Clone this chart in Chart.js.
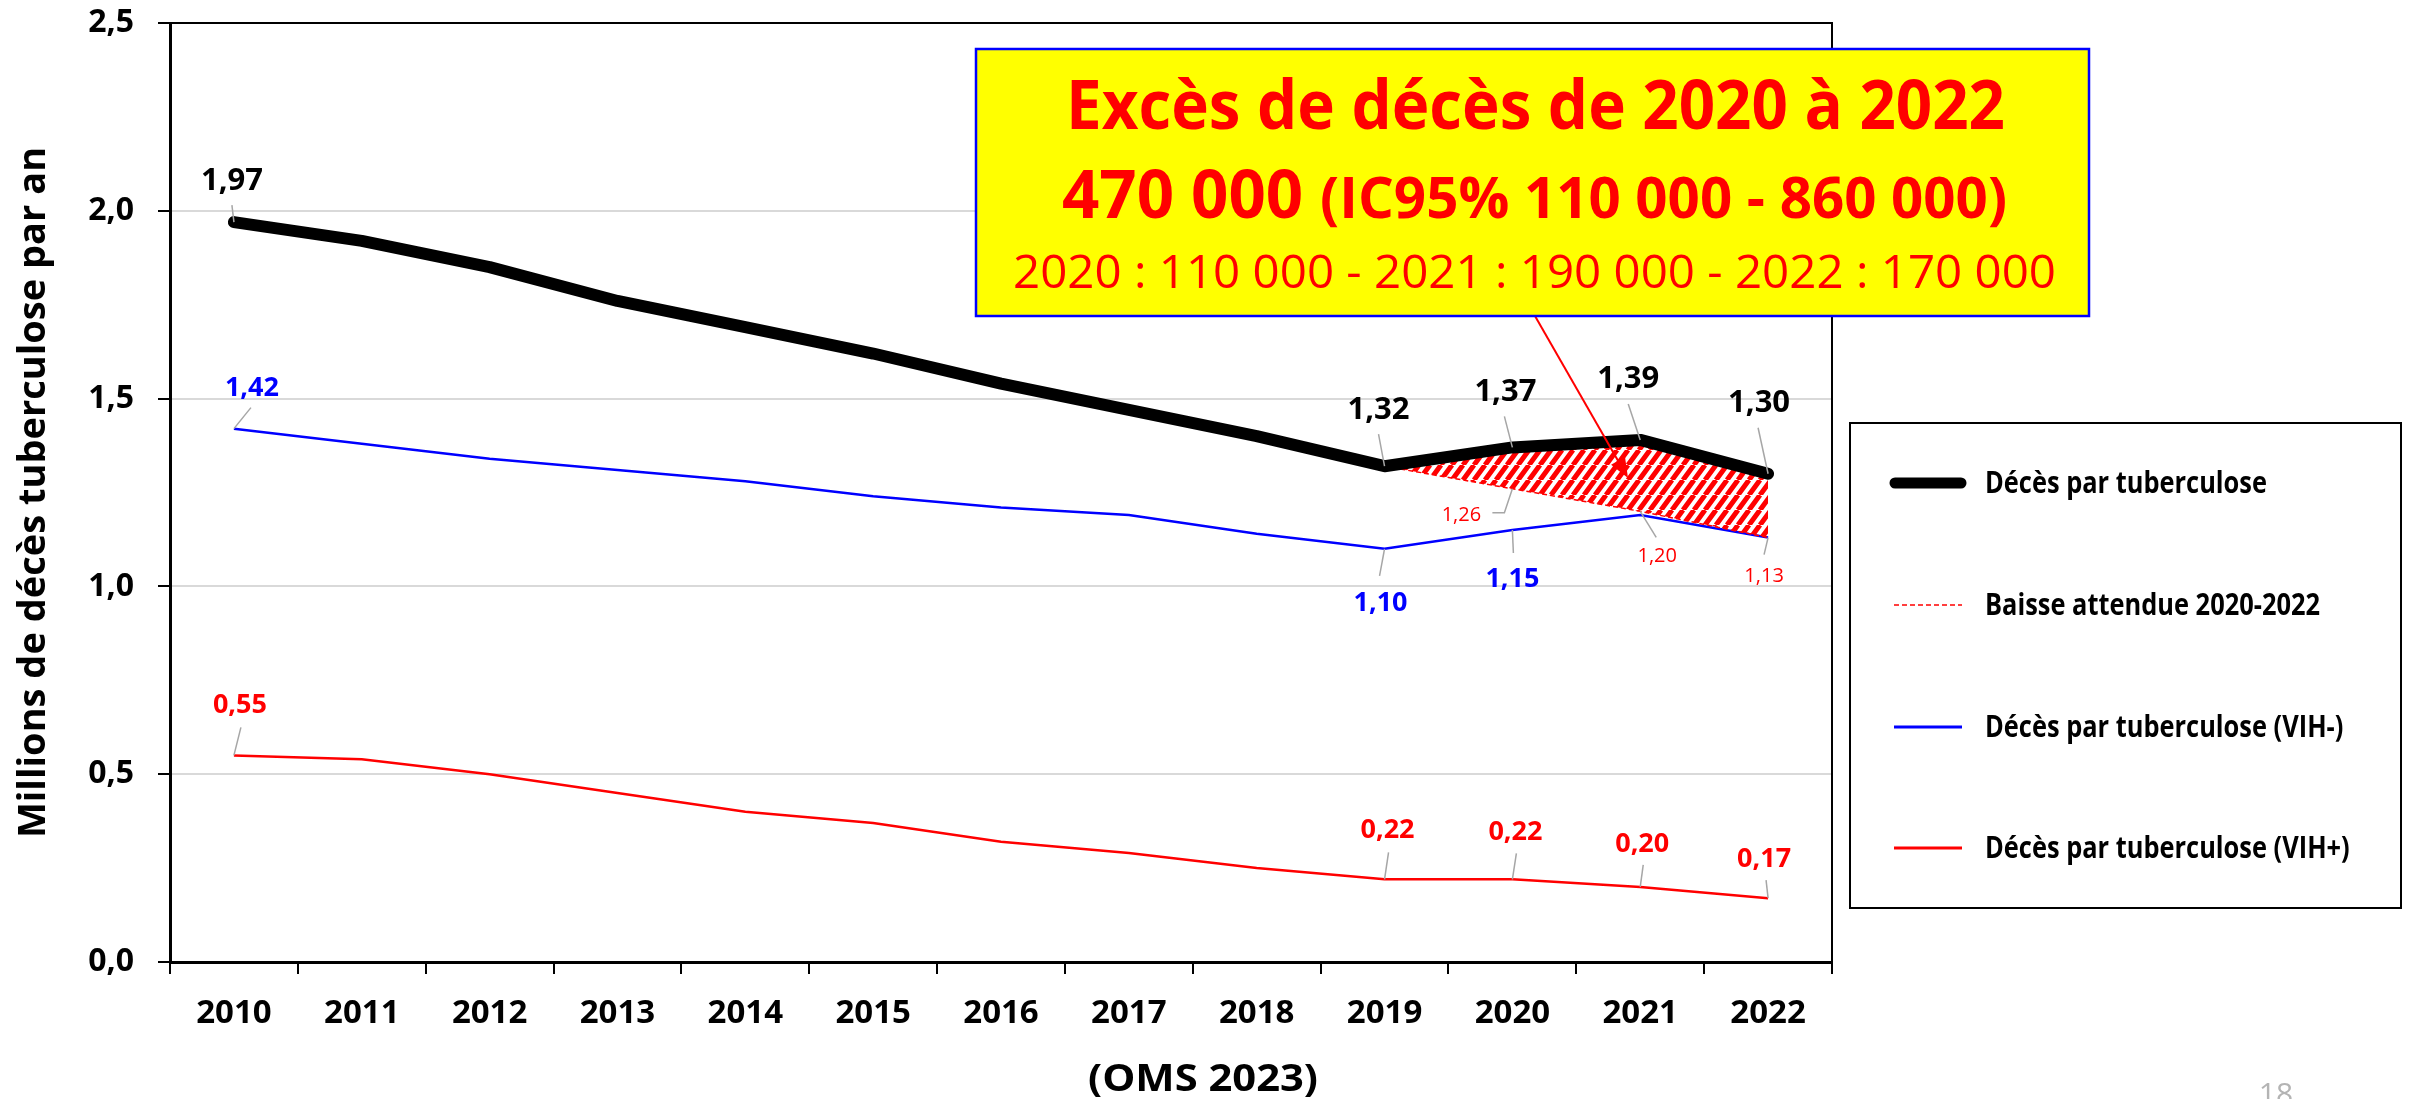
<!DOCTYPE html>
<html><head><meta charset="utf-8">
<script src="https://cdn.jsdelivr.net/npm/chart.js@4.4.1/dist/chart.umd.min.js"></script>
<style>html,body{margin:0;padding:0;background:#fff;overflow:hidden}#wrap{width:2410px;height:1099px;position:relative}canvas{display:block}</style>
</head><body><div id="wrap"><canvas id="c" width="2410" height="1099"></canvas></div>
<script>
// ---------- DATA ----------
const years = ['2010','2011','2012','2013','2014','2015','2016','2017','2018','2019','2020','2021','2022'];
const totalDeaths = [1.97,1.92,1.85,1.76,1.69,1.62,1.54,1.47,1.40,1.32,1.37,1.39,1.30];
const expectedDecline = [null,null,null,null,null,null,null,null,null,1.32,1.26,1.20,1.13];
const hivNegDeaths = [1.42,1.38,1.34,1.31,1.28,1.24,1.21,1.19,1.14,1.10,1.15,1.19,1.13];
const hivPosDeaths = [0.55,0.54,0.50,0.45,0.40,0.37,0.32,0.29,0.25,0.22,0.22,0.20,0.17];
const yTicks = [0,0.5,1.0,1.5,2.0,2.5];
const seriesNames = ['Décès par tuberculose','Baisse attendue 2020-2022','Décès par tuberculose (VIH-)','Décès par tuberculose (VIH+)'];
const yTitle = 'Millions de décès tuberculose par an';
const xTitle = '(OMS 2023)';
const boxLine1 = 'Excès de décès de 2020 à 2022';
const boxLine2a = '470 000 ';
const boxLine2b = '(IC95% 110 000 - 860 000)';
const boxLine3 = '2020 : 110 000 - 2021 : 190 000 - 2022 : 170 000';
const pageNumber = '18';

// ---------- STYLE / LAYOUT ----------
const FONT = "'Open Sans', 'Liberation Sans', sans-serif";
// [index, labelDx, labelDy(baseline), leader points dx,dy ...] relative to the data point
const labelLayout = {
  0: { font: 'bold 31px ' + FONT, color: '#000000', items: [[0,-2,-32,-2,-17],[9,-6,-47,-6,-32],[10,-7,-46,-8,-31],[11,-12,-52,-12,-36],[12,-9,-62,-10,-46]] },
  1: { font: '20px ' + FONT, color: '#FF0000', items: [[10,-51,32,-8,24,-20,24],[11,17,51,16,26],[12,-4,44,-4,17]] },
  2: { font: 'bold 27px ' + FONT, color: '#0000FF', items: [[0,18,-33,17,-21],[9,-4,62,-5,27],[10,0,57,1,23]] },
  3: { font: 'bold 27px ' + FONT, color: '#FF0000', items: [[0,6,-42,7,-28],[9,3,-41,4,-27],[10,3,-39,4,-26],[11,2,-35,3,-22],[12,-4,-31,-2,-18]] }
};
const fmt = v => v.toFixed(2).replace('.', ',');

const canvas = document.getElementById('c');
const ctx = canvas.getContext('2d');

function makeHatch() {
  const w = 11, h = 15;
  const pc = document.createElement('canvas'); pc.width = w; pc.height = h;
  const p = pc.getContext('2d');
  p.strokeStyle = '#FF0000'; p.lineWidth = 5; p.lineCap = 'butt';
  p.beginPath();
  for (const o of [-w, 0, w]) { p.moveTo(o, h); p.lineTo(o + w, 0); }
  p.stroke();
  return ctx.createPattern(pc, 'repeat');
}

function fitText(c, text, x, y, targetW) {
  const w = c.measureText(text).width;
  c.save(); c.translate(x, y); c.scale(targetW / w, 1); c.textAlign = 'left'; c.fillText(text, 0, 0); c.restore();
}

const decor = {
  id: 'decor',
  afterDraw(chart) {
    const c = chart.ctx, a = chart.chartArea;
    c.save();
    // plot frame top/right
    c.strokeStyle = '#000'; c.lineWidth = 2;
    c.beginPath(); c.moveTo(a.left, a.top); c.lineTo(a.right, a.top); c.lineTo(a.right, a.bottom); c.stroke();

    // data labels with leader lines
    chart.data.datasets.forEach((ds, di) => {
      const L = labelLayout[di]; if (!L) return;
      const meta = chart.getDatasetMeta(di);
      L.items.forEach(it => {
        const [i, dx, dy, ...lead] = it;
        const p = meta.data[i]; const v = ds.data[i];
        c.strokeStyle = '#A6A6A6'; c.lineWidth = 1.5;
        c.beginPath(); c.moveTo(p.x, p.y);
        for (let k = 0; k < lead.length; k += 2) c.lineTo(p.x + lead[k], p.y + lead[k + 1]);
        c.stroke();
        c.font = L.font; c.fillStyle = L.color; c.textAlign = 'center'; c.textBaseline = 'alphabetic';
        c.fillText(fmt(v), p.x + dx, p.y + dy);
      });
    });

    // x axis title
    c.font = 'bold 37px ' + FONT; c.fillStyle = '#000'; c.textBaseline = 'alphabetic';
    fitText(c, xTitle, 1088, 1091, 230);

    // arrow from box to hatched area
    const ax0 = 1535, ay0 = 316, ax1 = 1628, ay1 = 478;
    c.strokeStyle = '#FF0000'; c.fillStyle = '#FF0000'; c.lineWidth = 2;
    const ang = Math.atan2(ay1 - ay0, ax1 - ax0);
    const hl = 20, hw = 8;
    const bxp = ax1 - hl * Math.cos(ang), byp = ay1 - hl * Math.sin(ang);
    c.beginPath(); c.moveTo(ax0, ay0); c.lineTo(bxp, byp); c.stroke();
    c.beginPath(); c.moveTo(ax1, ay1);
    c.lineTo(bxp + hw * Math.sin(ang), byp - hw * Math.cos(ang));
    c.lineTo(bxp - hw * Math.sin(ang), byp + hw * Math.cos(ang));
    c.closePath(); c.fill();

    // yellow box
    const bx = 976, by = 49, bw = 2089 - 976, bh = 316 - 49;
    c.fillStyle = '#FFFF00'; c.fillRect(bx, by, bw, bh);
    c.strokeStyle = '#0000FF'; c.lineWidth = 2.5; c.strokeRect(bx, by, bw, bh);
    c.fillStyle = '#FF0000';
    c.font = 'bold 68px ' + FONT; fitText(c, boxLine1, 1066, 129, 939);
    c.font = 'bold 66px ' + FONT; const w2a = c.measureText(boxLine2a).width;
    c.font = 'bold 57px ' + FONT; const w2b = c.measureText(boxLine2b).width;
    const s2 = 945 / (w2a + w2b);
    c.save(); c.translate(1062, 218); c.scale(s2, 1); c.textAlign = 'left';
    c.font = 'bold 66px ' + FONT; c.fillText(boxLine2a, 0, 0);
    c.font = 'bold 57px ' + FONT; c.fillText(boxLine2b, w2a, 0);
    c.restore();
    c.font = '46px ' + FONT; fitText(c, boxLine3, 1013, 288, 1043);

    // legend
    const lx = 1850, ly = 423, lw = 551, lh = 485;
    c.strokeStyle = '#000'; c.lineWidth = 2; c.strokeRect(lx, ly, lw, lh);
    const rows = [483, 605, 727, 848];
    c.font = 'bold 30px ' + FONT;
    const sx = 282 / c.measureText(chart.data.datasets[0].label).width;
    chart.data.datasets.forEach((ds, i) => {
      const y = rows[i];
      c.save();
      c.strokeStyle = ds.borderColor; c.lineWidth = i === 0 ? 11 : (i === 1 ? 1.5 : 3);
      c.lineCap = i === 0 ? 'round' : 'butt';
      c.setLineDash(ds.borderDash || []);
      c.beginPath();
      if (i === 0) { c.moveTo(1895, y); c.lineTo(1961, y); } else { c.moveTo(1894, y); c.lineTo(1962, y); }
      c.stroke(); c.restore();
      c.fillStyle = '#000'; c.textBaseline = 'middle';
      c.save(); c.translate(1985, y + 1); c.scale(sx, 1); c.textAlign = 'left'; c.fillText(ds.label, 0, 0); c.restore();
    });

    // page number
    c.font = '30px ' + FONT; c.fillStyle = '#B4B4B4'; c.textAlign = 'center'; c.textBaseline = 'alphabetic';
    c.fillText(pageNumber, 2276, 1104);
    c.restore();
  }
};

const hatch = makeHatch();

new Chart(ctx, {
  type: 'line',
  data: {
    labels: years,
    datasets: [
      { label: seriesNames[0], data: totalDeaths, borderColor: '#000000', borderWidth: 12, borderCapStyle: 'round', borderJoinStyle: 'round', pointRadius: 0, fill: false, tension: 0 },
      { label: seriesNames[1], data: expectedDecline, borderColor: '#FF0000', borderWidth: 1.5, borderDash: [5, 3], pointRadius: 0, fill: { target: 0 }, backgroundColor: hatch, tension: 0 },
      { label: seriesNames[2], data: hivNegDeaths, borderColor: '#0000FF', borderWidth: 2.5, pointRadius: 0, fill: false, tension: 0 },
      { label: seriesNames[3], data: hivPosDeaths, borderColor: '#FF0000', borderWidth: 2.5, pointRadius: 0, fill: false, tension: 0 }
    ]
  },
  options: {
    responsive: false, animation: false, devicePixelRatio: 1,
    layout: { padding: { top: 23, right: 578, bottom: 0, left: 0 } },
    plugins: { legend: { display: false }, tooltip: { enabled: false }, filler: { propagate: false } },
    scales: {
      x: {
        offset: true,
        grid: { offset: true, drawOnChartArea: false, color: '#000', lineWidth: 2, tickLength: 12 },
        border: { color: '#000', width: 3 },
        ticks: { font: { family: FONT, size: 33, weight: 'bold' }, color: '#000', padding: 20, maxRotation: 0, autoSkip: false },
        afterFit(s) { s.height = 137; s.paddingLeft = 0; s.paddingRight = 0; }
      },
      y: {
        min: 0, max: 2.5,
        afterBuildTicks(s) { s.ticks = yTicks.map(v => ({ value: v })); },
        grid: { color: '#D9D9D9', lineWidth: 2, tickLength: 12, tickColor: '#000', tickWidth: 2 },
        border: { color: '#000', width: 3 },
        ticks: { font: { family: FONT, size: 32, weight: 'bold' }, color: '#000', padding: 24, callback: v => Number(v).toFixed(1).replace('.', ',') },
        title: { display: true, text: yTitle, font: { family: FONT, size: 38, weight: 'bold' }, color: '#000', padding: { top: 11, bottom: 0 } },
        afterFit(s) { s.width = 170; s.paddingTop = 0; s.paddingBottom = 0; }
      }
    }
  },
  plugins: [decor]
});
</script>
</body></html>
